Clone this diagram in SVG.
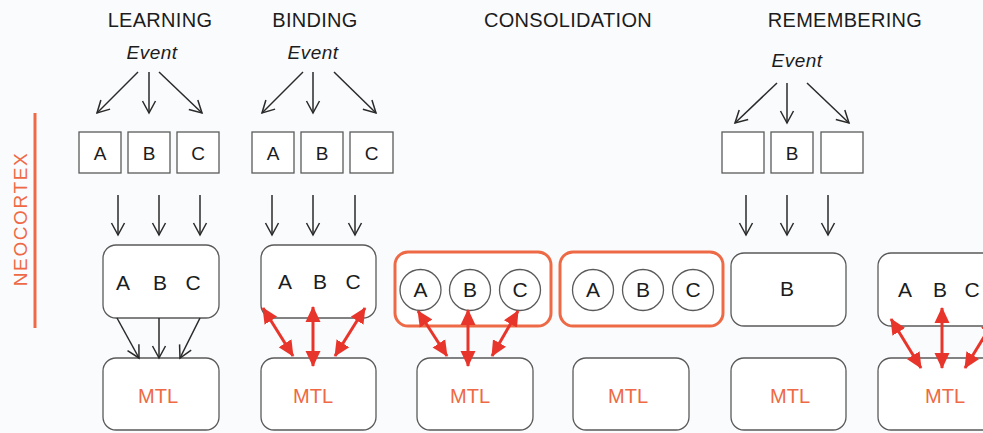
<svg xmlns="http://www.w3.org/2000/svg" width="983" height="433" viewBox="0 0 983 433">
<defs>
<style>
.t{font-family:"Liberation Sans",Arial,sans-serif;fill:#1c1c1c;text-anchor:middle}
.title{font-size:20px;letter-spacing:0.3px}
.ev{font-size:19px;font-style:italic;letter-spacing:0.5px}
.sl{font-size:19px}
.bl{font-size:21px}
.mtl{font-size:20px;fill:#ee6944}
.box{fill:#fff;stroke:#5a5a5a;stroke-width:1.3}
.cir{fill:#fff;stroke:#5a5a5a;stroke-width:1.3}
.grp{fill:#fff;stroke:#ee6a46;stroke-width:3}
.ar{stroke:#2a2a2a;stroke-width:1.5;fill:none;marker-end:url(#ah)}
.rd{stroke:#e8352b;stroke-width:3;fill:none;marker-end:url(#rh);marker-start:url(#rh)}
</style>
<marker id="ah" markerUnits="userSpaceOnUse" markerWidth="16" markerHeight="16" viewBox="0 0 16 16" refX="13" refY="8" orient="auto">
<path d="M1,1.5 L13,8 L1,14.5" fill="none" stroke="#2a2a2a" stroke-width="1.5"/>
</marker>
<marker id="rh" markerUnits="userSpaceOnUse" markerWidth="17" markerHeight="16" viewBox="0 0 17 16" refX="15" refY="8" orient="auto-start-reverse">
<path d="M0,0.5 L16,8 L0,15.5 z" fill="#e8352b"/>
</marker>
</defs>
<rect x="0" y="0" width="983" height="433" fill="#fafbfd"/>

<g id="titles">
<text class="t title" x="160" y="27">LEARNING</text>
<text class="t title" x="315" y="27">BINDING</text>
<text class="t title" x="568" y="27">CONSOLIDATION</text>
<text class="t title" x="845" y="27">REMEMBERING</text>
</g>

<g id="neocortex">
<text class="t" x="0" y="0" transform="translate(27,219) rotate(-90)" style="font-size:19px;fill:#ee6944;letter-spacing:1.6px">NEOCORTEX</text>
<line x1="35" y1="113" x2="35" y2="328" stroke="#ee6a46" stroke-width="3"/>
</g>

<!-- LEARNING -->
<g id="learning-event"><text class="t ev" x="152" y="59">Event</text></g>
<g id="learning-A"><rect class="box" x="79" y="132" width="42" height="41"/><text class="t sl" x="100" y="160">A</text></g>
<g id="learning-B"><rect class="box" x="128" y="132" width="42" height="41"/><text class="t sl" x="149" y="160">B</text></g>
<g id="learning-C"><rect class="box" x="177" y="132" width="42" height="41"/><text class="t sl" x="198" y="160">C</text></g>
<g id="learning-abc"><rect class="box" x="103" y="245" width="116" height="73" rx="13"/>
<text class="t bl" x="123" y="290">A</text><text class="t bl" x="160" y="290">B</text><text class="t bl" x="193" y="290">C</text></g>
<g id="learning-mtl"><rect class="box" x="103" y="358" width="116" height="72" rx="13"/><text class="t mtl" x="158" y="403">MTL</text></g>

<!-- BINDING -->
<g id="binding-event"><text class="t ev" x="313" y="59">Event</text></g>
<g id="binding-A"><rect class="box" x="252" y="132" width="42" height="41"/><text class="t sl" x="273" y="160">A</text></g>
<g id="binding-B"><rect class="box" x="301" y="132" width="42" height="41"/><text class="t sl" x="322" y="160">B</text></g>
<g id="binding-C"><rect class="box" x="350" y="132" width="43" height="41"/><text class="t sl" x="371.5" y="160">C</text></g>
<g id="binding-abc"><rect class="box" x="261" y="245" width="115" height="73" rx="13"/>
<text class="t bl" x="285" y="289">A</text><text class="t bl" x="320" y="289">B</text><text class="t bl" x="353" y="289">C</text></g>
<g id="binding-mtl"><rect class="box" x="261" y="358" width="115" height="72" rx="13"/><text class="t mtl" x="313" y="403">MTL</text></g>

<!-- CONSOLIDATION 1 -->
<g id="consol1-group"><rect class="grp" x="395" y="252" width="156" height="74" rx="13"/>
<circle class="cir" cx="420.5" cy="290" r="20.5"/><text class="t bl" x="420.5" y="297">A</text>
<circle class="cir" cx="470" cy="290" r="20.5"/><text class="t bl" x="470" y="297">B</text>
<circle class="cir" cx="520" cy="290" r="20.5"/><text class="t bl" x="520" y="297">C</text></g>
<g id="consol1-mtl"><rect class="box" x="417" y="358" width="116" height="72" rx="13"/><text class="t mtl" x="470" y="403">MTL</text></g>

<!-- CONSOLIDATION 2 -->
<g id="consol2-group"><rect class="grp" x="560" y="252" width="163" height="74" rx="13"/>
<circle class="cir" cx="593" cy="290" r="20.5"/><text class="t bl" x="593" y="297">A</text>
<circle class="cir" cx="643" cy="290" r="20.5"/><text class="t bl" x="643" y="297">B</text>
<circle class="cir" cx="693" cy="290" r="20.5"/><text class="t bl" x="693" y="297">C</text></g>
<g id="consol2-mtl"><rect class="box" x="573" y="358" width="116" height="72" rx="13"/><text class="t mtl" x="628" y="403">MTL</text></g>

<!-- REMEMBERING -->
<g id="remember-event"><text class="t ev" x="797" y="67">Event</text></g>
<g id="remember-1"><rect class="box" x="722" y="132" width="42" height="41"/></g>
<g id="remember-B"><rect class="box" x="771" y="132" width="42" height="41"/><text class="t sl" x="792" y="160">B</text></g>
<g id="remember-3"><rect class="box" x="821" y="132" width="42" height="41"/></g>
<g id="remember-b"><rect class="box" x="731" y="253" width="115" height="73" rx="13"/><text class="t bl" x="787" y="296">B</text></g>
<g id="remember-mtl"><rect class="box" x="731" y="358" width="115" height="72" rx="13"/><text class="t mtl" x="790" y="403">MTL</text></g>

<!-- LAST (cut off) -->
<g id="last-abc"><rect class="box" x="878" y="253" width="140" height="73" rx="13"/>
<text class="t bl" x="905" y="297">A</text><text class="t bl" x="940" y="297">B</text><text class="t bl" x="972" y="297">C</text></g>
<g id="last-mtl"><rect class="box" x="878" y="358" width="140" height="72" rx="13"/><text class="t mtl" x="945" y="403">MTL</text></g>

<g id="connectors">
<!-- learning -->
<line class="ar" x1="138" y1="72" x2="97" y2="113"/>
<line class="ar" x1="149" y1="72" x2="149" y2="113"/>
<line class="ar" x1="159" y1="72" x2="202" y2="113"/>
<line class="ar" x1="118" y1="195" x2="118" y2="235"/>
<line class="ar" x1="159" y1="195" x2="159" y2="235"/>
<line class="ar" x1="200" y1="195" x2="200" y2="235"/>
<line class="ar" x1="117" y1="318" x2="139" y2="358"/>
<line class="ar" x1="159" y1="318" x2="159" y2="358"/>
<line class="ar" x1="200" y1="318" x2="180" y2="358"/>
<!-- binding -->
<line class="ar" x1="303" y1="72" x2="262" y2="113"/>
<line class="ar" x1="313" y1="72" x2="313" y2="113"/>
<line class="ar" x1="334" y1="72" x2="376" y2="113"/>
<line class="ar" x1="272" y1="195" x2="272" y2="235"/>
<line class="ar" x1="313" y1="195" x2="313" y2="235"/>
<line class="ar" x1="355" y1="195" x2="355" y2="235"/>
<line class="rd" x1="263" y1="308" x2="293" y2="356"/>
<line class="rd" x1="313" y1="307" x2="313" y2="366"/>
<line class="rd" x1="365" y1="308" x2="335" y2="356"/>
<!-- consolidation -->
<line class="rd" x1="418" y1="311" x2="447" y2="356"/>
<line class="rd" x1="468" y1="310" x2="468" y2="366"/>
<line class="rd" x1="518" y1="311" x2="492" y2="356"/>
<!-- remembering -->
<line class="ar" x1="777" y1="83" x2="735" y2="123"/>
<line class="ar" x1="787" y1="83" x2="787" y2="123"/>
<line class="ar" x1="807" y1="83" x2="849" y2="123"/>
<line class="ar" x1="746" y1="195" x2="746" y2="235"/>
<line class="ar" x1="787" y1="195" x2="787" y2="235"/>
<line class="ar" x1="828" y1="195" x2="828" y2="235"/>
<!-- last -->
<line class="rd" x1="891" y1="319" x2="921" y2="368"/>
<line class="rd" x1="942" y1="308" x2="942" y2="368"/>
<line class="rd" x1="995" y1="319" x2="965" y2="368"/>
</g>
</svg>
